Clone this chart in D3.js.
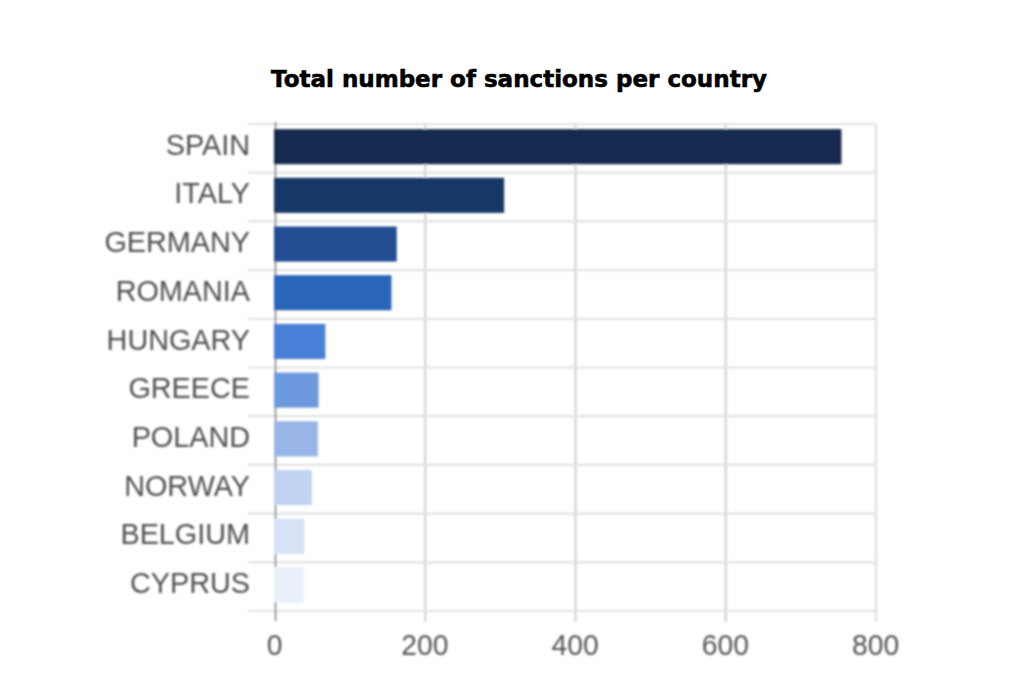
<!DOCTYPE html>
<html>
<head>
<meta charset="utf-8">
<script src="https://cdn.jsdelivr.net/npm/d3@7/dist/d3.min.js"></script>
<style>
html,body{margin:0;padding:0;background:#fff;}
svg{display:block;}
</style>
</head>
<body>
<svg id="chart" width="1024" height="690"></svg>
<script>
const titleText = "Total number of sanctions per country";
const categories = ["SPAIN","ITALY","GERMANY","ROMANIA","HUNGARY","GREECE","POLAND","NORWAY","BELGIUM","CYPRUS"];
const sanctions = [754,305,162,155,67,58,57,49,39,38];
const xTicks = [0,200,400,600,800];
const palette = ["#132a4f","#173766","#234d91","#2b65ba","#4a7fd6","#6d9ade","#97b5e6","#c0d3f1","#d6e2f5","#e8eff9"];

const svg = d3.select("#chart");
const x = d3.scaleLinear().domain([0,800]).range([275,876]);
const gridTop = 124, gridBottom = 611, barLift = 1.7;
const y = d3.scaleBand().domain(categories).range([gridTop-barLift,gridBottom-barLift]).paddingInner(0.28).paddingOuter(0.14);
const step = y.step();

const defs = svg.append("defs");
defs.append("filter").attr("id","soft").attr("filterUnits","userSpaceOnUse")
  .attr("x",0).attr("y",100).attr("width",1024).attr("height",590)
  .append("feGaussianBlur").attr("stdDeviation",0.8);

const g = svg.append("g").attr("filter","url(#soft)");

// vertical grid
g.append("g").selectAll("line").data(xTicks.slice(1)).join("line")
  .attr("x1",d=>x(d)).attr("x2",d=>x(d)).attr("y1",gridTop).attr("y2",622)
  .attr("stroke",d=>d===800?"#dedede":"#d0d0d0").attr("stroke-width",2.2);

// horizontal grid: category boundaries
const bounds = categories.map(c=>y(c)-step*0.14+barLift).concat([gridBottom]);
g.append("g").selectAll("line").data(bounds).join("line")
  .attr("x1",248).attr("x2",876).attr("y1",d=>d).attr("y2",d=>d)
  .attr("stroke","#e2e2e2").attr("stroke-width",2.2);

// zero axis line
g.append("line").attr("x1",x(0)+0.5).attr("x2",x(0)+0.5).attr("y1",122).attr("y2",621)
  .attr("stroke","#7d7d7d").attr("stroke-width",1.5);

// bars
g.append("g").selectAll("rect").data(categories).join("rect")
  .attr("x",x(0)-1).attr("y",d=>y(d))
  .attr("width",(d,i)=>x(sanctions[i])-x(0)+1).attr("height",y.bandwidth())
  .attr("fill",(d,i)=>palette[i]);

// axes: the reference text is stretched vertically, so it is narrowed slightly
const font = "'Liberation Sans', Arial, sans-serif";
const squeeze = 0.96;
const yAxis = d3.axisLeft(y).tickSize(0).tickPadding(25);
const yG = g.append("g").attr("transform",`translate(${x(0)},0)`).call(yAxis);
yG.select(".domain").remove();
yG.selectAll("text").attr("font-family",font).attr("font-size",30).attr("fill","#4f4f4f")
  .attr("x",-25/squeeze).attr("dy","0.27em").attr("transform",`scale(${squeeze},1)`);

const xAxis = d3.axisBottom(x).tickValues(xTicks).tickSize(0).tickPadding(0).tickFormat(d3.format("d"));
const xG = g.append("g").attr("transform","translate(0,611)").call(xAxis);
xG.select(".domain").remove();
xG.selectAll("text").attr("font-family",font).attr("font-size",29.5).attr("fill","#555555")
  .attr("dy",0).attr("y",44).attr("x",-1/squeeze).attr("transform",`scale(${squeeze},1)`);

// title
svg.append("text").attr("x",519).attr("y",87).attr("text-anchor","middle")
  .attr("font-family","'DejaVu Sans', sans-serif").attr("font-weight",700)
  .attr("font-size",23).attr("fill","#000").attr("stroke","#000").attr("stroke-width",0.6)
  .attr("textLength",496).attr("lengthAdjust","spacingAndGlyphs").text(titleText);
</script>
</body>
</html>
